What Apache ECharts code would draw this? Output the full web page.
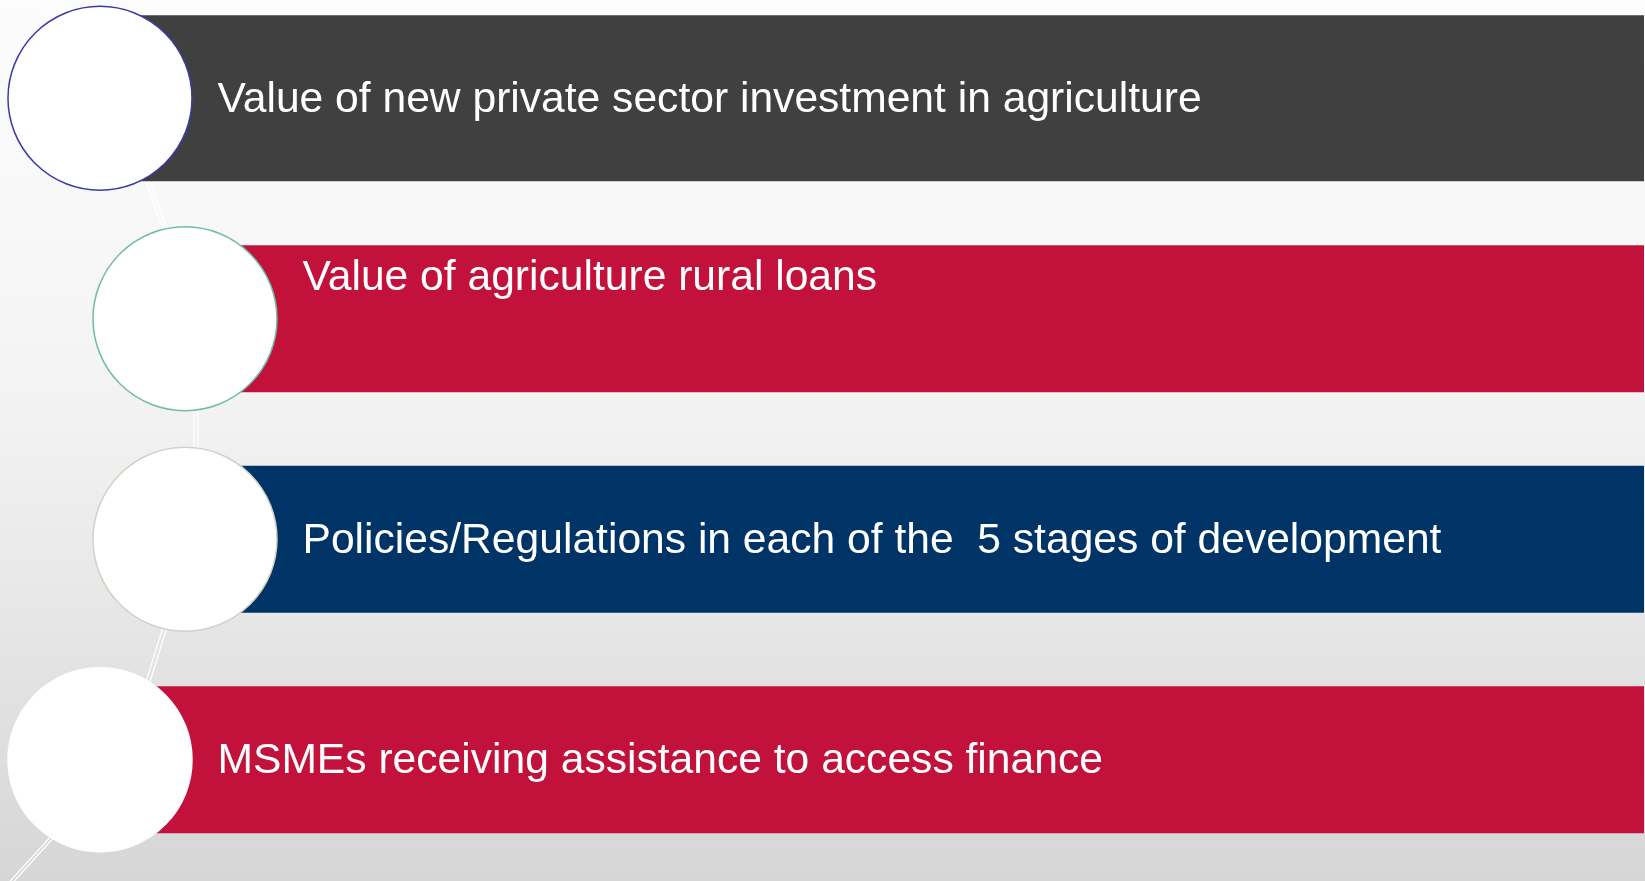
<!DOCTYPE html>
<html><head><meta charset="utf-8">
<script src="https://cdn.jsdelivr.net/npm/echarts@6/dist/echarts.min.js"></script>
<style>html,body{margin:0;padding:0;background:#fff;overflow:hidden}#c{width:1645px;height:881px}</style>
</head><body><div id="c"></div>
<script>
// ---- data ----
const labels = [
  'Value of new private sector investment in agriculture',
  'Value of agriculture rural loans',
  'Policies/Regulations in each of the  5 stages of development',
  'MSMEs receiving assistance to access finance'
];
const levels = [0, 1, 1, 0];          // indentation step of each row
const rows = [0, 1, 2, 3];            // row order, top to bottom
// ---- styles ----
const barColors = ['#404040', '#c2123c', '#013466', '#c2123c'];
const ringColors = ['#3b3ba6', '#6fbea2', '#d2d2c4', '#ffffff'];
const barHeightRatio = [0.753, 0.667, 0.667, 0.667];
const textLift = [-2, 41, -2, -2];
const RADIUS = 92;
const FONT = '"Liberation Sans", Arial, sans-serif';

const chart = echarts.init(document.getElementById('c'), null, {renderer: 'canvas'});

const option = {
  animation: false,
  grid: {left: 15, right: 1, top: 0, bottom: 0},
  xAxis: {type: 'value', min: -1, max: 18.165, show: false},
  yAxis: {type: 'value', inverse: true, min: -0.4456, max: 3.5499, show: false},
  graphic: [{
    type: 'rect', z: -20, silent: true,
    shape: {x: 0, y: 0, width: 1645, height: 881},
    style: {fill: new echarts.graphic.LinearGradient(0, 0, 0, 1, [
      {offset: 0, color: '#fcfcfc'},
      {offset: 0.25, color: '#f8f8f8'},
      {offset: 0.48, color: '#f2f2f2'},
      {offset: 0.74, color: '#e4e4e4'},
      {offset: 1, color: '#d6d6d6'}
    ])}
  }],
  series: [{
    type: 'custom',
    z: 5,
    data: levels.map((lv, i) => [lv, rows[i]]),
    encode: {x: 0, y: 1},
    renderItem: function (params, api) {
      const i = params.dataIndex;
      const c = api.coord([api.value(0), api.value(1)]);
      const band = api.size([0, 1])[1];
      const h = band * barHeightRatio[i];
      const right = params.coordSys.x + params.coordSys.width;
      return {
        type: 'group',
        children: [
          {type: 'rect', shape: {x: c[0], y: c[1] - h / 2, width: right - c[0], height: h},
           style: {fill: barColors[i]}},
          {type: 'circle', shape: {cx: c[0], cy: c[1], r: RADIUS},
           style: {fill: '#ffffff', stroke: ringColors[i], lineWidth: 1.5}},
          {type: 'text', x: c[0] + 117.5, y: c[1] - textLift[i],
           style: {text: labels[i], fill: '#ffffff', font: '42.6px ' + FONT,
                   textAlign: 'left', textVerticalAlign: 'middle'}}
        ]
      };
    }
  }]
};
chart.setOption(option);

// connector double lines, placed relative to the circle centres
const ctr = levels.map((lv, i) => chart.convertToPixel({gridIndex: 0}, [lv, rows[i]]));
const P = (k, dx, dy) => [ctr[k][0] + dx, ctr[k][1] + dy];
const paths = [
  [P(0, -70, -100), P(0, -40, -68), P(0, 40, 67), P(1, -18, -78)],
  [P(1, 9, 62), P(2, 9, -78)],
  [P(2, -17, 72), P(3, 40, -59)],
  [P(3, -34.5, 60.5), P(3, -93.6, 125.5)]
];
const lines = [];
paths.forEach(pts => {
  [0, 4].forEach(off => {
    lines.push({
      type: 'polyline', z: -10, silent: true,
      shape: {points: pts.map(p => [p[0] + off, p[1]])},
      style: {stroke: '#ffffff', lineWidth: 1.3, fill: null}
    });
  });
});
chart.setOption({graphic: option.graphic.concat(lines)});
</script>
</body></html>
